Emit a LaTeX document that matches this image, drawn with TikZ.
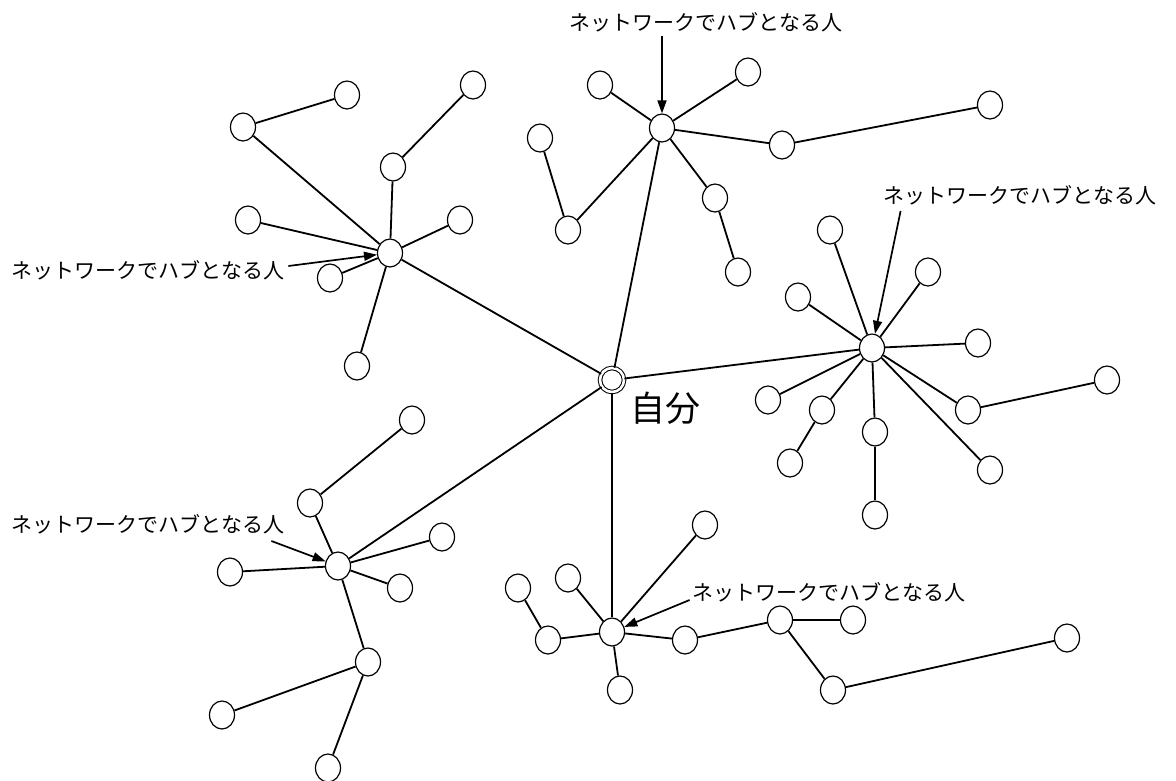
\documentclass[tikz,border=0pt]{standalone}
\usepackage{fontspec}
\newfontfamily\jpfont{Noto Sans CJK JP}
\usetikzlibrary{arrows.meta, shapes.geometric}

\begin{document}
\begin{tikzpicture}[x=1pt, y=-1pt,
        person/.style={ellipse, draw, line width=1.2pt, fill=white, inner sep=0pt, minimum width=25pt, minimum height=28pt},
        me/.style={circle, draw, line width=1pt, double, double distance=2.6pt, fill=white, inner sep=0pt, minimum size=24pt},
        tie/.style={line width=1.8pt},
        hublabel/.style={inner sep=0pt, font=\jpfont\fontsize{21}{24}\selectfont},
        hubarrow/.style={-{Triangle[length=13pt, width=9pt]}, line width=1.7pt}]

        \path [use as bounding box, fill=white] (0,0) rectangle (1176,780);

        %% Myself
        \node (me) [me] at (612,380) {};
        \node (meLabel) [inner sep=0pt, font=\jpfont\fontsize{35}{38}\selectfont] at (665,408) {自分};

        %% Hubs
        \node (hubNW) [person] at (390,253) {};
        \node (hubN)  [person] at (662,128) {};
        \node (hubE)  [person] at (872,348) {};
        \node (hubSW) [person] at (338,566) {};
        \node (hubS)  [person] at (612,632) {};

        %% Friends around the upper left hub
        \node (nwA) [person] at (243,127) {};
        \node (nwB) [person] at (347,95) {};
        \node (nwC) [person] at (393,167) {};
        \node (nwD) [person] at (473,85) {};
        \node (nwE) [person] at (248,220) {};
        \node (nwF) [person] at (460,220) {};
        \node (nwG) [person] at (330,278) {};
        \node (nwH) [person] at (357,366) {};

        %% Friends around the top hub
        \node (nA) [person] at (600,85) {};
        \node (nB) [person] at (748,72) {};
        \node (nC) [person] at (540,138) {};
        \node (nD) [person] at (568,230) {};
        \node (nE) [person] at (782,145) {};
        \node (nF) [person] at (990,105) {};
        \node (nG) [person] at (715,198) {};
        \node (nH) [person] at (738,272) {};

        %% Friends around the right hub
        \node (eA) [person] at (830,230) {};
        \node (eB) [person] at (928,272) {};
        \node (eC) [person] at (798,297) {};
        \node (eD) [person] at (978,343) {};
        \node (eE) [person] at (768,400) {};
        \node (eF) [person] at (822,410) {};
        \node (eG) [person] at (790,463) {};
        \node (eH) [person] at (875,432) {};
        \node (eI) [person] at (875,515) {};
        \node (eJ) [person] at (968,410) {};
        \node (eK) [person] at (1107,380) {};
        \node (eL) [person] at (990,470) {};

        %% Friends around the lower left hub
        \node (swA) [person] at (310,503) {};
        \node (swB) [person] at (412,420) {};
        \node (swC) [person] at (230,572) {};
        \node (swD) [person] at (442,537) {};
        \node (swE) [person] at (400,588) {};
        \node (swF) [person] at (368,662) {};
        \node (swG) [person] at (222,715) {};
        \node (swH) [person] at (328,768) {};

        %% Friends around the bottom hub
        \node (sA) [person] at (518,588) {};
        \node (sB) [person] at (548,640) {};
        \node (sC) [person] at (568,578) {};
        \node (sD) [person] at (705,525) {};
        \node (sE) [person] at (620,690) {};
        \node (sF) [person] at (685,640) {};
        \node (sG) [person] at (780,620) {};
        \node (sH) [person] at (853,620) {};
        \node (sI) [person] at (833,690) {};
        \node (sJ) [person] at (1067,638) {};

        %% Ties
        \foreach \a/\b in {me/hubNW, me/hubN, me/hubE, me/hubSW, me/hubS,
                hubNW/nwA, nwA/nwB, hubNW/nwC, nwC/nwD, hubNW/nwE, hubNW/nwF, hubNW/nwG, hubNW/nwH,
                hubN/nA, hubN/nB, nC/nD, nD/hubN, hubN/nE, nE/nF, hubN/nG, nG/nH,
                hubE/eA, hubE/eB, hubE/eC, hubE/eD, hubE/eE, hubE/eF, eF/eG, hubE/eH, eH/eI, hubE/eJ, eJ/eK, hubE/eL,
                hubSW/swA, swA/swB, hubSW/swC, hubSW/swD, hubSW/swE, hubSW/swF, swF/swG, swF/swH,
                sA/sB, sB/hubS, hubS/sC, hubS/sD, hubS/sE, hubS/sF, sF/sG, sG/sH, sG/sI, sI/sJ}
            \draw [tie] (\a) -- (\b);

        %% Hub labels
        \node (lblNW) [hublabel] at (148,270) {ネットワークでハブとなる人};
        \node (lblN)  [hublabel] at (706,22)  {ネットワークでハブとなる人};
        \node (lblE)  [hublabel] at (1020,195) {ネットワークでハブとなる人};
        \node (lblSW) [hublabel] at (148,524) {ネットワークでハブとなる人};
        \node (lblS)  [hublabel] at (829,592) {ネットワークでハブとなる人};

        %% Arrows to the hubs
        \draw [hubarrow] ([xshift=4pt,yshift=4pt]lblNW.east) -- (hubNW);
        \draw [hubarrow] ([xshift=-44pt,yshift=-4pt]lblN.south) -- (hubN);
        \draw [hubarrow] ([xshift=17pt,yshift=-6pt]lblE.south west) -- (hubE);
        \draw [hubarrow] ([xshift=-13pt,yshift=-7pt]lblSW.south east) -- (hubSW);
        \draw [hubarrow] ([xshift=-3pt,yshift=2pt]lblS.south west) -- (hubS);

    \end{tikzpicture}
\end{document}
